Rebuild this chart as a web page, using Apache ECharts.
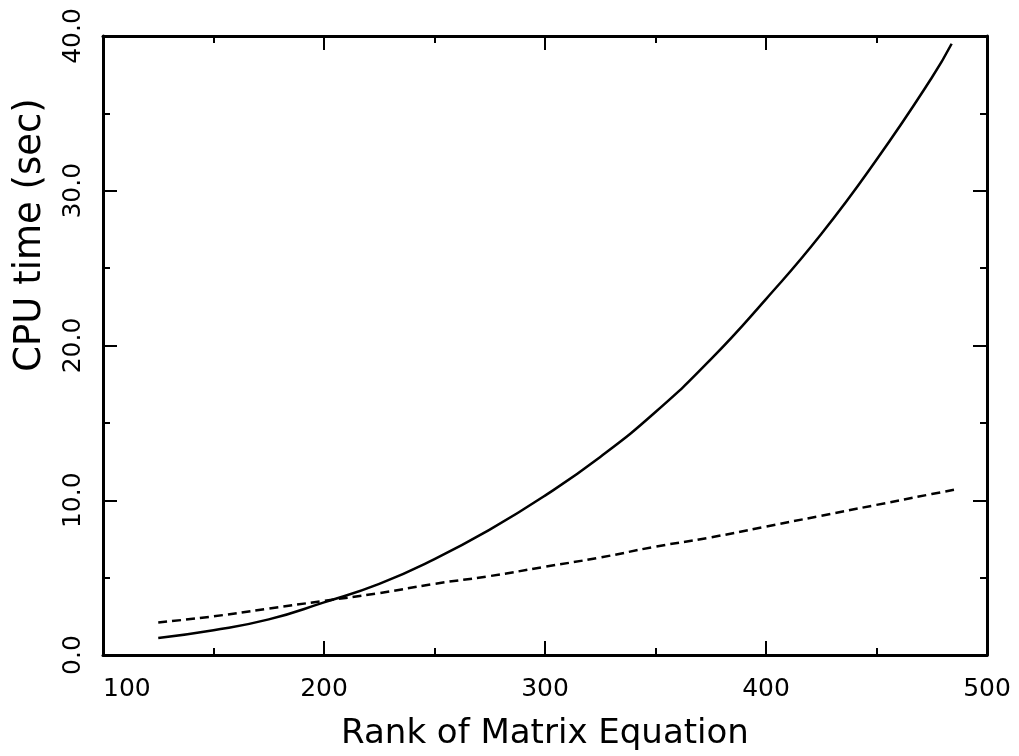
<!DOCTYPE html>
<html>
<head>
<meta charset="utf-8">
<script src="https://cdn.jsdelivr.net/npm/echarts@6/dist/echarts.min.js"></script>
<style>
  html, body { margin: 0; padding: 0; background: #fff; }
  #chart { width: 1019px; height: 756px; }
</style>
</head>
<body>
<div id="chart"></div>
<script>
// Matrix rank (x) and CPU time in seconds for the two solution methods
const rank      = [125, 150, 175, 200, 225, 250, 275, 300, 325, 350, 375, 400, 425, 450, 475, 484];
const solidTime = [1.1, 1.6, 2.3, 3.4, 4.6, 6.2, 8.1, 10.3, 12.8, 15.7, 19.1, 23.0, 27.2, 32.0, 37.3, 39.5];

const rankDashed = [125, 150, 175, 200, 225, 250, 275, 300, 325, 350, 375, 400, 425, 450, 475, 486];
const dashedTime = [2.1, 2.5, 3.0, 3.5, 4.0, 4.6, 5.1, 5.7, 6.3, 7.0, 7.6, 8.3, 9.0, 9.7, 10.4, 10.7];

const xRange = [100, 500];
const yRange = [0, 40];

const FONT = 'DejaVu Sans';
const INK = '#000';

const solidPoints = rank.map((r, i) => [r, solidTime[i]]);
const dashedPoints = rankDashed.map((r, i) => [r, dashedTime[i]]);

// Shared styling for the four sides of the frame (ticks point inward)
function frameAxis(extra) {
  return Object.assign({
    type: 'value',
    splitLine: { show: false },
    minorSplitLine: { show: false },
    axisLine: { show: true, onZero: false, lineStyle: { color: INK, width: 3 } },
    axisTick: { show: true, inside: true, length: 14, lineStyle: { color: INK, width: 2 } },
    minorTick: { show: true, splitNumber: 2, length: 7, lineStyle: { color: INK, width: 2 } }
  }, extra);
}

const chart = echarts.init(document.getElementById('chart'), null, { renderer: 'canvas' });

chart.setOption({
  backgroundColor: '#fff',
  animation: false,
  grid: { left: 103, right: 32, top: 36, bottom: 99 },
  xAxis: [
    frameAxis({
      position: 'bottom',
      min: xRange[0], max: xRange[1], interval: 100,
      axisLabel: {
        color: INK, fontFamily: FONT, fontSize: 25, margin: 22,
        alignMinLabel: 'left'
      },
      name: 'Rank of Matrix Equation',
      nameLocation: 'middle',
      nameGap: 62,
      nameTextStyle: { color: INK, fontFamily: FONT, fontSize: 34 }
    }),
    frameAxis({
      position: 'top',
      min: xRange[0], max: xRange[1], interval: 100,
      axisLabel: { show: false }
    })
  ],
  yAxis: [
    frameAxis({
      position: 'left',
      min: yRange[0], max: yRange[1], interval: 10,
      axisLabel: {
        color: INK, fontFamily: FONT, fontSize: 25, margin: 17, rotate: 90,
        formatter: v => v.toFixed(1)
      }
    }),
    frameAxis({
      position: 'right',
      min: yRange[0], max: yRange[1], interval: 10,
      axisLabel: { show: false }
    })
  ],
  graphic: [{
    type: 'text',
    x: 30, y: 235,
    rotation: Math.PI / 2,
    style: {
      text: 'CPU time (sec)',
      font: '37px "' + FONT + '"',
      fill: INK,
      textAlign: 'center',
      textVerticalAlign: 'middle'
    }
  }],
  series: [
    {
      name: 'solid',
      type: 'line',
      xAxisIndex: 0, yAxisIndex: 0,
      data: solidPoints,
      smooth: true,
      showSymbol: false,
      lineStyle: { color: INK, width: 2.5, type: 'solid' }
    },
    {
      name: 'dashed',
      type: 'line',
      xAxisIndex: 0, yAxisIndex: 0,
      data: dashedPoints,
      smooth: true,
      showSymbol: false,
      lineStyle: { color: INK, width: 2.5, type: [9, 5] }
    }
  ]
});
</script>
</body>
</html>
